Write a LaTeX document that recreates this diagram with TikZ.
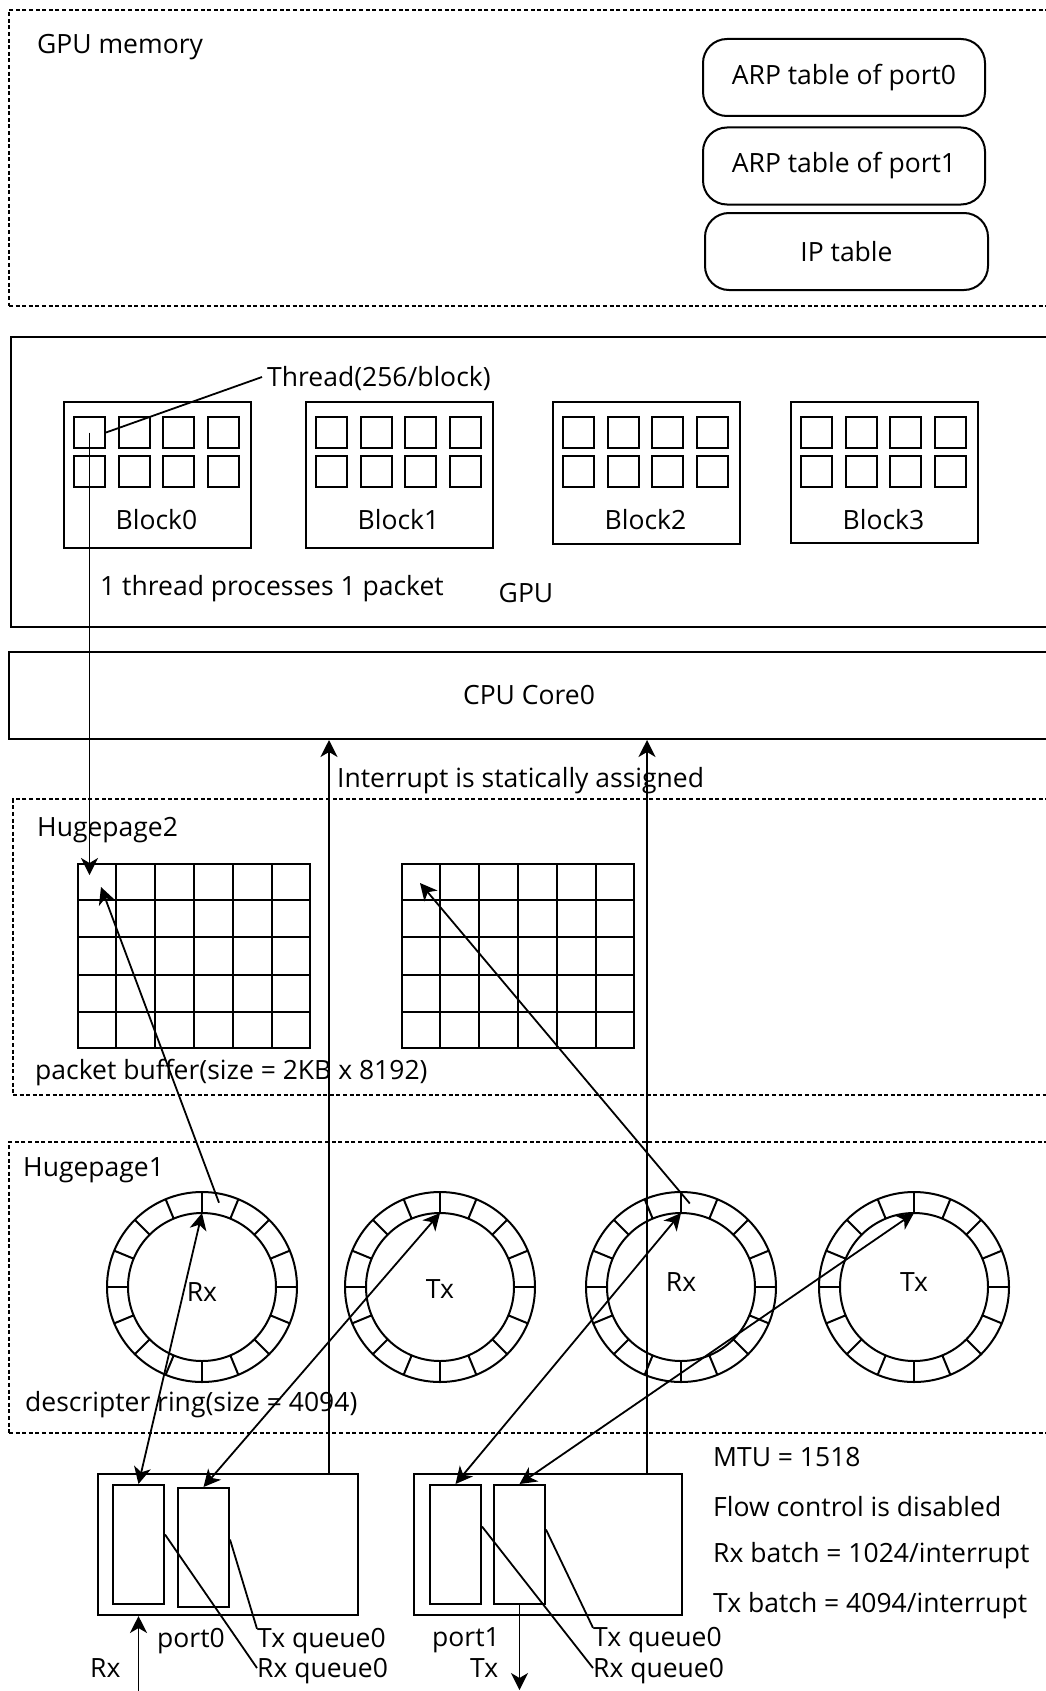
\documentclass[tikz,border=0pt]{standalone}
\usepackage{fontspec}
\setmainfont{Open Sans}
\usepackage{tikz}
\usetikzlibrary{arrows.meta,positioning,calc}

\begin{document}
\begin{tikzpicture}[
    x=1pt, y=1pt,
    every node/.style={font=\fontsize{26.5}{31}\selectfont},
    txt/.style={inner sep=0pt, anchor=west, text height=18pt, text depth=0pt},
    region/.style={draw, line width=1.8pt, dash pattern=on 4pt off 2.6pt, anchor=north west},
    solidbox/.style={draw, line width=2pt, anchor=north west},
    tablebox/.style={draw, line width=2pt, rounded corners=24pt, minimum width=282, minimum height=77},
    blockbox/.style={draw, line width=2pt, anchor=north west, minimum width=187},
    cell/.style={draw, line width=2pt, anchor=north west, minimum size=31, inner sep=0pt},
    buffer/.style={draw, line width=2pt, anchor=north west, minimum width=232, minimum height=184, inner sep=0pt},
    ringout/.style={draw, circle, line width=2pt, minimum size=190, outer sep=0pt},
    ringin/.style={draw, circle, line width=2pt, minimum size=148, outer sep=0pt, inner sep=0pt},
    port/.style={draw, line width=2pt, anchor=north west, minimum height=141},
    queue/.style={draw, line width=2pt, anchor=north west, minimum width=51, minimum height=119, inner sep=0pt},
    arrow/.style={-{Stealth[length=17pt, width=17pt, inset=5pt]}, line width=1.8pt},
    twoway/.style={{Stealth[length=17pt, width=17pt, inset=5pt]}-{Stealth[length=17pt, width=17pt, inset=5pt]}, line width=1.8pt},
    leader/.style={line width=1.8pt}
]
\useasboundingbox (0,0) rectangle (1046,-1691);
\clip (0,0) rectangle (1046,-1691);

\node[region, minimum width=1052, minimum height=296] (gpumem) at (8,-9) {};
\node[txt] (gpumemlbl) at (37,-45) {GPU memory};
\node[tablebox] (arp0) at (844,-77.5) {ARP table of port0};
\node[tablebox] (arp1) at (844,-166) {ARP table of port1};
\node[tablebox, minimum width=283] (iptable) at (846.5,-251.5) {IP table};

\node[solidbox, minimum width=1040, minimum height=290] (gpu) at (10,-336) {};
\foreach \n/\bx/\bh in {0/63/146, 1/305/146, 2/552/142, 3/790/141} {
  \node[blockbox, minimum height=\bh] (block\n) at (\bx,-401) {};
  \node (lbl\n) at (\bx+93.5,-520) {Block\n};
  \foreach \i in {0,...,3}
    \foreach \j in {0,1}
      \node[cell] (block\n-\i\j) at (\bx+10+44.5*\i,-416-39*\j) {};
}
\node[txt, inner sep=5pt] (thread) at (262,-377) {Thread(256/block)};
\draw[leader] (thread.west) -- (block0-00.east);
\node[txt] (onethread) at (100,-586) {1 thread processes 1 packet};
\node (gpulbl) at (526,-593) {GPU};

\node[solidbox, minimum width=1040, minimum height=87] (cpu) at (8,-651) {CPU Core0};
\node[txt] (interrupt) at (337,-778) {Interrupt is statically assigned};

\node[region, minimum width=1050, minimum height=296] (huge2) at (12,-798) {};
\node[txt] (huge2lbl) at (37,-827) {Hugepage2};
\node[buffer] (buf1) at (77,-863) {};
\node[buffer] (buf2) at (401,-863) {};
\foreach \b in {buf1,buf2} {
  \foreach \i in {1,...,5}
    \draw[line width=2pt] ($(\b.north west)!\i/6!(\b.north east)$) -- ($(\b.south west)!\i/6!(\b.south east)$);
  \foreach \j in {1,...,4}
    \draw[line width=2pt] ($(\b.north west)!\j/5!(\b.south west)$) -- ($(\b.north east)!\j/5!(\b.south east)$);
}
\node[txt] (buflbl) at (35,-1070) {packet buffer(size = 2KB x 8192)};

\node[region, minimum width=1054, minimum height=291] (huge1) at (8,-1141) {};
\node[txt] (huge1lbl) at (23,-1167) {Hugepage1};
\foreach \n/\rx/\lbl/\dy in {1/202/Rx/-5, 2/440/Tx/-2, 3/681/Rx/5, 4/914/Tx/5} {
  \node[ringout] (ring\n) at (\rx,-1287) {};
  \node[ringin] (inner\n) at (ring\n) {};
  \node (rlbl\n) at (\rx,-1287+\dy) {\lbl};
  \foreach \a in {0,22.5,...,337.5}
    \draw[line width=2pt] (ring\n.center) ++(\a:74) -- ++(\a:21);
}
\node[txt] (ringlbl) at (25,-1402) {descripter ring(size = 4094)};

\node[port, minimum width=260] (port0) at (97,-1473) {};
\node[port, minimum width=268] (port1) at (413,-1473) {};
\node[queue] (p0rx) at (112,-1484) {};
\node[queue] (p0tx) at (177,-1487) {};
\node[queue] (p1rx) at (429,-1484) {};
\node[queue] (p1tx) at (493,-1484) {};
\node[txt] (port0lbl) at (157,-1638) {port0};
\node[txt] (port1lbl) at (432,-1637) {port1};
\node[txt] (rxlbl) at (90,-1668) {Rx};
\node[txt] (txlbl) at (470,-1668) {Tx};
\node[txt] (p0txq) at (257,-1638) {Tx queue0};
\node[txt] (p0rxq) at (257,-1668) {Rx queue0};
\node[txt] (p1txq) at (593,-1637) {Tx queue0};
\node[txt] (p1rxq) at (593,-1668) {Rx queue0};

\node[txt] (mtu) at (713,-1457) {MTU = 1518};
\node[txt] (flow) at (713,-1507) {Flow control is disabled};
\node[txt] (rxbatch) at (713,-1553) {Rx batch = 1024/interrupt};
\node[txt] (txbatch) at (713,-1603) {Tx batch = 4094/interrupt};

\draw[arrow] (block0-00.center) -- ([yshift=-12pt]block0-00.center |- buf1.north);
\path (ring1.center) ++(78.6:86) coordinate (ring1band);
\path (ring3.center) ++(84:84) coordinate (ring3band);
\draw[arrow] (ring1band) -- ([shift={(24,-24)}]buf1.north west);
\draw[arrow] (ring3band) -- ([shift={(19,-20)}]buf2.north west);

\draw[twoway] (p0rx.north) -- (inner1.north);
\draw[twoway] (p0tx.north) -- (inner2.north);
\draw[twoway] (p1rx.north) -- (inner3.north);
\draw[twoway] (p1tx.north) -- (inner4.north);

\coordinate (irq0) at ([xshift=-30]port0.north east);
\coordinate (irq1) at ([xshift=-36]port1.north east);
\draw[arrow] (irq0) -- (irq0 |- cpu.south);
\draw[arrow] (irq1) -- (irq1 |- cpu.south);

\path (p0rx.south) ++(0,-88) coordinate (rxin);
\path (p1tx.south) ++(0,-85) coordinate (txout);
\draw[arrow] (rxin) -- (rxin |- port0.south);
\draw[arrow] (p1tx.south) -- (txout);

\draw[leader] ([yshift=10]p0rx.east) -- (p0rxq.west);
\draw[leader] ([yshift=8]p0tx.east) -- (p0txq.north west);
\draw[leader] ([yshift=18]p1rx.east) -- (p1rxq.west);
\draw[leader] ([yshift=15]p1tx.east) -- (p1txq.north west);
\end{tikzpicture}
\end{document}
